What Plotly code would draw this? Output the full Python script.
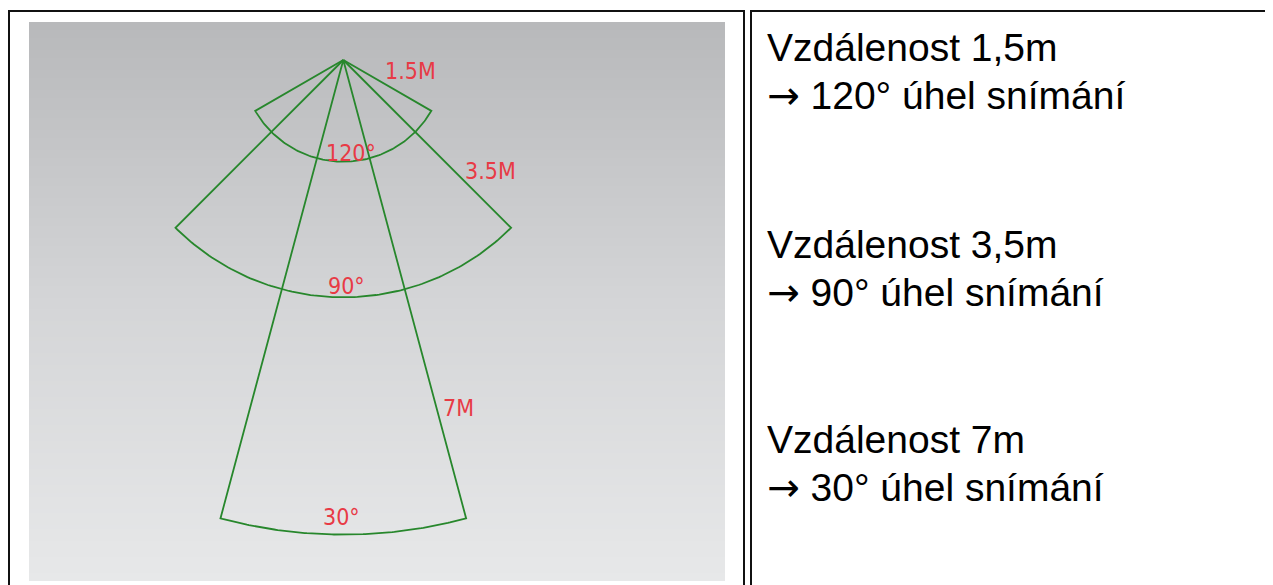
import numpy as np
import plotly.graph_objects as go

# ---------------- data ----------------
distances_m = [1.5, 3.5, 7.0]          # detection distance (m)
angles_deg = [120, 90, 30]             # detection angle (deg)
dist_labels = ["1.5M", "3.5M", "7M"]
angle_labels = ["120°", "90°", "30°"]
dist_text_cz = ["1,5", "3,5", "7"]
# label anchor points (metres, x right / y forward negative)
dist_label_x = [0.984, 2.164, 1.692]
dist_label_y = [-0.162, -1.637, -5.133]
angle_label_x = [0.114, 0.04, -0.02]
angle_label_y = [-1.372, -3.333, -6.74]

# ---------------- layout helpers ----------------
OFF = 8                     # page body margin
W, H = 1273 - OFF, 585 - OFF
def px(x):
    return (x - OFF) / W
def py(y):
    return 1 - (y - OFF) / H

# image panel (screen pixels) and metres range
IMG_L, IMG_R, IMG_T, IMG_B = 29, 725, 22, 581
X_RANGE = [-4.6357, 5.6298]
Y_RANGE = [-7.6844, 0.5605]

GREEN = "#27872c"
RED = "#e83a45"

fig = go.Figure()

# background gradient of the picture
N = 140
y_edges = np.linspace(Y_RANGE[1], Y_RANGE[0], N + 1)
z = [[i / (N - 1)] for i in range(N)]
fig.add_trace(go.Heatmap(
    x=X_RANGE, y=y_edges, z=z, zmin=0, zmax=1,
    colorscale=[[0, "rgb(184,185,187)"], [0.5, "rgb(212,213,215)"], [1, "rgb(231,232,233)"]],
    showscale=False, hoverinfo="skip"))

# sectors
for d, a in zip(distances_m, angles_deg):
    half = np.radians(a / 2)
    th = np.linspace(-half, half, 120)
    xs = np.concatenate([[0], d * np.sin(th), [0]])
    ys = np.concatenate([[0], -d * np.cos(th), [0]])
    fig.add_trace(go.Scatter(x=xs, y=ys, mode="lines",
                             line=dict(color=GREEN, width=1.8),
                             hoverinfo="skip", showlegend=False))

label_font = dict(family="DejaVu Sans Condensed, DejaVu Sans", size=23, color=RED)
for t, x, y in zip(dist_labels, dist_label_x, dist_label_y):
    fig.add_annotation(x=x, y=y, xref="x", yref="y", text=t, showarrow=False,
                       xanchor="center", yanchor="middle", font=label_font)
for t, x, y in zip(angle_labels, angle_label_x, angle_label_y):
    fig.add_annotation(x=x, y=y, xref="x", yref="y", text=t, showarrow=False,
                       xanchor="center", yanchor="middle", font=label_font)

# right-hand text
text_font = dict(family="Liberation Sans, Arial", size=39, color="#000000")
ARROW = '<span style="font-family:\'DejaVu Sans\'">→</span>'
block_baselines = [61, 258, 453]
LINE_GAP = 49
DESC = 0.212 * 39 + 2
for dtxt, ang, base in zip(dist_text_cz, angles_deg, block_baselines):
    for k, line in enumerate([f"Vzdálenost {dtxt}m", f"{ARROW} {ang}° úhel snímání"]):
        b = base + k * LINE_GAP
        fig.add_annotation(x=px(765), y=py(b + DESC), xref="paper", yref="paper",
                           text=line, showarrow=False, xanchor="left", yanchor="bottom",
                           font=text_font)

# table frames
frame = dict(color="#111111", width=2)
fig.add_shape(type="rect", xref="paper", yref="paper",
              x0=px(9), x1=px(744), y0=py(11), y1=py(600), line=frame, layer="above")
fig.add_shape(type="rect", xref="paper", yref="paper",
              x0=px(751), x1=px(1290), y0=py(11), y1=py(600), line=frame, layer="above")

fig.update_layout(
    width=W, height=H, margin=dict(l=0, r=0, t=0, b=0),
    paper_bgcolor="white", plot_bgcolor="white", showlegend=False,
    xaxis=dict(domain=[px(IMG_L), px(IMG_R)], range=X_RANGE, visible=False, fixedrange=True),
    yaxis=dict(domain=[py(IMG_B), py(IMG_T)], range=Y_RANGE, visible=False, fixedrange=True),
)

fig.write_html("out.html", config={"displayModeBar": False})
